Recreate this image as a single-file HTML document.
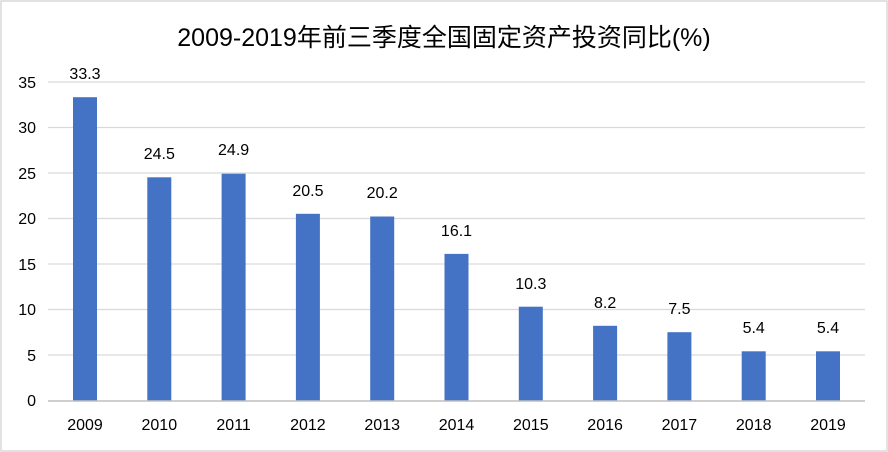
<!DOCTYPE html>
<html><head><meta charset="utf-8"><style>
html,body{margin:0;padding:0;background:#fff}
svg{display:block}
text{font-family:"Liberation Sans","Noto Sans CJK SC",sans-serif;fill:#000}
</style></head><body>
<svg width="888" height="452" viewBox="0 0 888 452" xmlns="http://www.w3.org/2000/svg">
<rect x="1" y="1" width="886" height="450" fill="#fff" stroke="#d9d9d9" stroke-width="1.5"/>
<text x="444" y="46" text-anchor="middle" font-size="25">2009-2019年前三季度全国固定资产投资同比(%)</text>
<g stroke="#d9d9d9" stroke-width="1.2">
<line x1="48" x2="865" y1="82" y2="82"/>
<line x1="48" x2="865" y1="127.5" y2="127.5"/>
<line x1="48" x2="865" y1="173" y2="173"/>
<line x1="48" x2="865" y1="218.5" y2="218.5"/>
<line x1="48" x2="865" y1="264" y2="264"/>
<line x1="48" x2="865" y1="309.5" y2="309.5"/>
<line x1="48" x2="865" y1="355" y2="355"/>
</g>
<g font-size="16" text-anchor="end">
<text x="36" y="88">35</text><text x="36" y="133">30</text><text x="36" y="179">25</text><text x="36" y="224">20</text><text x="36" y="270">15</text><text x="36" y="315">10</text><text x="36" y="361">5</text><text x="36" y="406">0</text>
</g>
<g fill="#4472c4">
<rect x="73" y="97.2" width="24" height="303.3"/>
<rect x="147.3" y="177.3" width="24" height="223.2"/>
<rect x="221.6" y="173.7" width="24" height="226.8"/>
<rect x="295.9" y="213.8" width="24" height="186.7"/>
<rect x="370.2" y="216.5" width="24" height="184"/>
<rect x="444.5" y="253.9" width="24" height="146.6"/>
<rect x="518.8" y="306.7" width="24" height="93.8"/>
<rect x="593.1" y="325.8" width="24" height="74.7"/>
<rect x="667.4" y="332.2" width="24" height="68.3"/>
<rect x="741.7" y="351.3" width="24" height="49.2"/>
<rect x="816" y="351.3" width="24" height="49.2"/>
</g>
<line x1="48" x2="865" y1="401" y2="401" stroke="#bfbfbf" stroke-width="1.5"/>
<g font-size="16" text-anchor="middle">
<text x="85" y="79">33.3</text><text x="159.3" y="159">24.5</text><text x="233.6" y="155">24.9</text><text x="307.9" y="196">20.5</text><text x="382.2" y="198">20.2</text><text x="456.5" y="236">16.1</text><text x="530.8" y="289">10.3</text><text x="605.1" y="308">8.2</text><text x="679.4" y="314">7.5</text><text x="753.7" y="333">5.4</text><text x="828" y="333">5.4</text>
</g>
<g font-size="16" text-anchor="middle">
<text x="85" y="430">2009</text><text x="159.3" y="430">2010</text><text x="233.6" y="430">2011</text><text x="307.9" y="430">2012</text><text x="382.2" y="430">2013</text><text x="456.5" y="430">2014</text><text x="530.8" y="430">2015</text><text x="605.1" y="430">2016</text><text x="679.4" y="430">2017</text><text x="753.7" y="430">2018</text><text x="828" y="430">2019</text>
</g>
</svg>
</body></html>
